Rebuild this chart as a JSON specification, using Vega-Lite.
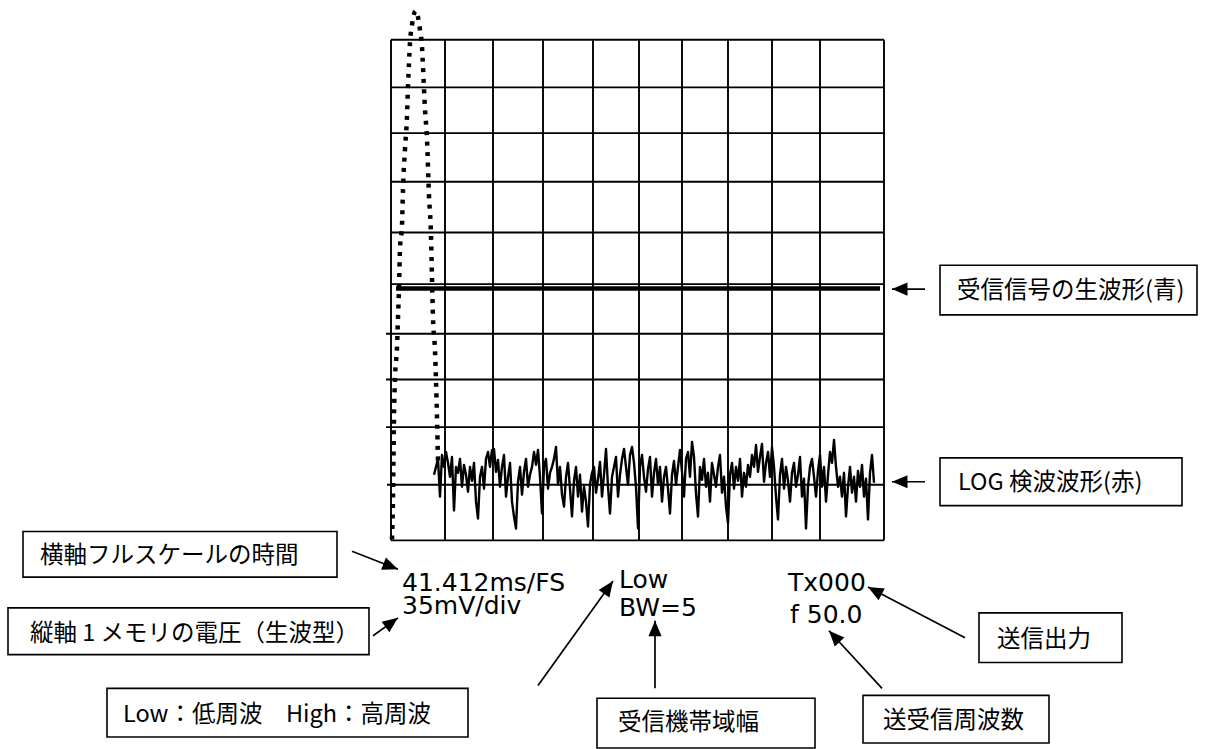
{
  "$schema": "https://vega.github.io/schema/vega-lite/v6.json",
  "width": 1231,
  "height": 749,
  "autosize": {"type": "fit", "contains": "padding"},
  "padding": 0,
  "background": "white",
  "config": {"view": {"stroke": null}},
  "datasets": {
    "grid": [
      {"x": 391, "y": 40, "x2": 391, "y2": 544},
      {"x": 445, "y": 40, "x2": 445, "y2": 544},
      {"x": 493, "y": 40, "x2": 493, "y2": 544},
      {"x": 543, "y": 40, "x2": 543, "y2": 544},
      {"x": 593, "y": 40, "x2": 593, "y2": 544},
      {"x": 639, "y": 40, "x2": 639, "y2": 544},
      {"x": 682, "y": 40, "x2": 682, "y2": 544},
      {"x": 728, "y": 40, "x2": 728, "y2": 544},
      {"x": 772, "y": 40, "x2": 772, "y2": 544},
      {"x": 820, "y": 40, "x2": 820, "y2": 544},
      {"x": 884, "y": 40, "x2": 884, "y2": 544},
      {"x": 391, "y": 40, "x2": 884, "y2": 40},
      {"x": 391, "y": 88, "x2": 884, "y2": 88},
      {"x": 391, "y": 134, "x2": 884, "y2": 134},
      {"x": 391, "y": 183, "x2": 884, "y2": 183},
      {"x": 391, "y": 234, "x2": 884, "y2": 234},
      {"x": 391, "y": 286, "x2": 884, "y2": 286},
      {"x": 386, "y": 336, "x2": 884, "y2": 336},
      {"x": 386, "y": 382, "x2": 884, "y2": 382},
      {"x": 386, "y": 430, "x2": 884, "y2": 430},
      {"x": 387, "y": 488, "x2": 884, "y2": 488},
      {"x": 391, "y": 544, "x2": 884, "y2": 544}
    ],
    "signal": [
      {"x": 396, "y": 290.5, "x2": 880, "y2": 290.5}
    ],
    "noise": [
      {"x": 434, "y": 478}, {"x": 436, "y": 470}, {"x": 438, "y": 462}, {"x": 440, "y": 500}, {"x": 442, "y": 458}, {"x": 444, "y": 470}, {"x": 446, "y": 455}, {"x": 448, "y": 466}, {"x": 450, "y": 480}, {"x": 452, "y": 460},
      {"x": 454, "y": 514}, {"x": 456, "y": 470}, {"x": 458, "y": 476}, {"x": 460, "y": 462}, {"x": 462, "y": 490}, {"x": 464, "y": 468}, {"x": 466, "y": 478}, {"x": 468, "y": 495}, {"x": 470, "y": 470}, {"x": 472, "y": 484},
      {"x": 474, "y": 466}, {"x": 476, "y": 505}, {"x": 478, "y": 522}, {"x": 480, "y": 480}, {"x": 482, "y": 470}, {"x": 484, "y": 492}, {"x": 486, "y": 462}, {"x": 488, "y": 455}, {"x": 490, "y": 470}, {"x": 492, "y": 453},
      {"x": 494, "y": 452}, {"x": 496, "y": 475}, {"x": 498, "y": 463}, {"x": 500, "y": 490}, {"x": 502, "y": 470}, {"x": 504, "y": 458}, {"x": 506, "y": 500}, {"x": 508, "y": 480}, {"x": 510, "y": 466}, {"x": 512, "y": 505},
      {"x": 514, "y": 520}, {"x": 516, "y": 532}, {"x": 518, "y": 485}, {"x": 520, "y": 470}, {"x": 522, "y": 498}, {"x": 524, "y": 475}, {"x": 526, "y": 462}, {"x": 528, "y": 490}, {"x": 530, "y": 478}, {"x": 532, "y": 470},
      {"x": 534, "y": 455}, {"x": 536, "y": 468}, {"x": 538, "y": 453}, {"x": 540, "y": 480}, {"x": 542, "y": 517}, {"x": 544, "y": 470}, {"x": 546, "y": 462}, {"x": 548, "y": 492}, {"x": 550, "y": 476}, {"x": 552, "y": 470},
      {"x": 554, "y": 462}, {"x": 556, "y": 450}, {"x": 558, "y": 488}, {"x": 560, "y": 470}, {"x": 562, "y": 498}, {"x": 564, "y": 510}, {"x": 566, "y": 480}, {"x": 568, "y": 466}, {"x": 570, "y": 492}, {"x": 572, "y": 520},
      {"x": 574, "y": 484}, {"x": 576, "y": 470}, {"x": 578, "y": 500}, {"x": 580, "y": 478}, {"x": 582, "y": 515}, {"x": 584, "y": 490}, {"x": 586, "y": 505}, {"x": 588, "y": 530}, {"x": 590, "y": 488}, {"x": 592, "y": 476},
      {"x": 594, "y": 470}, {"x": 596, "y": 496}, {"x": 598, "y": 482}, {"x": 600, "y": 465}, {"x": 602, "y": 500}, {"x": 604, "y": 478}, {"x": 606, "y": 452}, {"x": 608, "y": 490}, {"x": 610, "y": 517}, {"x": 612, "y": 480},
      {"x": 614, "y": 470}, {"x": 616, "y": 460}, {"x": 618, "y": 500}, {"x": 620, "y": 478}, {"x": 622, "y": 462}, {"x": 624, "y": 452}, {"x": 626, "y": 470}, {"x": 628, "y": 488}, {"x": 630, "y": 458}, {"x": 632, "y": 450},
      {"x": 634, "y": 466}, {"x": 636, "y": 490}, {"x": 638, "y": 532}, {"x": 640, "y": 470}, {"x": 642, "y": 458}, {"x": 644, "y": 480}, {"x": 646, "y": 495}, {"x": 648, "y": 472}, {"x": 650, "y": 460}, {"x": 652, "y": 500},
      {"x": 654, "y": 476}, {"x": 656, "y": 462}, {"x": 658, "y": 488}, {"x": 660, "y": 470}, {"x": 662, "y": 505}, {"x": 664, "y": 480}, {"x": 666, "y": 470}, {"x": 668, "y": 492}, {"x": 670, "y": 517}, {"x": 672, "y": 478},
      {"x": 674, "y": 464}, {"x": 676, "y": 488}, {"x": 678, "y": 470}, {"x": 680, "y": 453}, {"x": 682, "y": 475}, {"x": 684, "y": 500}, {"x": 686, "y": 462}, {"x": 688, "y": 455}, {"x": 690, "y": 480}, {"x": 692, "y": 445},
      {"x": 694, "y": 460}, {"x": 696, "y": 497}, {"x": 698, "y": 520}, {"x": 700, "y": 470}, {"x": 702, "y": 483}, {"x": 704, "y": 462}, {"x": 706, "y": 490}, {"x": 708, "y": 476}, {"x": 710, "y": 505}, {"x": 712, "y": 466},
      {"x": 714, "y": 478}, {"x": 716, "y": 490}, {"x": 718, "y": 470}, {"x": 720, "y": 458}, {"x": 722, "y": 496}, {"x": 724, "y": 480}, {"x": 726, "y": 510}, {"x": 728, "y": 527}, {"x": 730, "y": 478}, {"x": 732, "y": 466},
      {"x": 734, "y": 492}, {"x": 736, "y": 470}, {"x": 738, "y": 484}, {"x": 740, "y": 462}, {"x": 742, "y": 500}, {"x": 744, "y": 476}, {"x": 746, "y": 490}, {"x": 748, "y": 468}, {"x": 750, "y": 480}, {"x": 752, "y": 458},
      {"x": 754, "y": 470}, {"x": 756, "y": 448}, {"x": 758, "y": 475}, {"x": 760, "y": 460}, {"x": 762, "y": 447}, {"x": 764, "y": 485}, {"x": 766, "y": 466}, {"x": 768, "y": 455}, {"x": 770, "y": 480}, {"x": 772, "y": 450},
      {"x": 774, "y": 470}, {"x": 776, "y": 500}, {"x": 778, "y": 523}, {"x": 780, "y": 478}, {"x": 782, "y": 462}, {"x": 784, "y": 492}, {"x": 786, "y": 470}, {"x": 788, "y": 484}, {"x": 790, "y": 505}, {"x": 792, "y": 476},
      {"x": 794, "y": 466}, {"x": 796, "y": 490}, {"x": 798, "y": 478}, {"x": 800, "y": 460}, {"x": 802, "y": 500}, {"x": 804, "y": 482}, {"x": 806, "y": 532}, {"x": 808, "y": 490}, {"x": 810, "y": 470}, {"x": 812, "y": 462},
      {"x": 814, "y": 480}, {"x": 816, "y": 500}, {"x": 818, "y": 474}, {"x": 820, "y": 458}, {"x": 822, "y": 490}, {"x": 824, "y": 470}, {"x": 826, "y": 505}, {"x": 828, "y": 478}, {"x": 830, "y": 455}, {"x": 832, "y": 466},
      {"x": 834, "y": 443}, {"x": 836, "y": 470}, {"x": 838, "y": 490}, {"x": 840, "y": 480}, {"x": 842, "y": 500}, {"x": 844, "y": 476}, {"x": 846, "y": 520}, {"x": 848, "y": 490}, {"x": 850, "y": 470}, {"x": 852, "y": 496},
      {"x": 854, "y": 480}, {"x": 856, "y": 505}, {"x": 858, "y": 474}, {"x": 860, "y": 490}, {"x": 862, "y": 468}, {"x": 864, "y": 500}, {"x": 866, "y": 482}, {"x": 868, "y": 523}, {"x": 870, "y": 476}, {"x": 872, "y": 458},
      {"x": 874, "y": 486}
    ],
    "peak": [
      {"i": 1, "x": 392, "y": 543}, {"i": 2, "x": 393, "y": 500}, {"i": 3, "x": 393.5, "y": 460},
      {"i": 4, "x": 394, "y": 420}, {"i": 5, "x": 395, "y": 380}, {"i": 6, "x": 397, "y": 350},
      {"i": 7, "x": 398, "y": 320}, {"i": 8, "x": 399, "y": 290}, {"i": 9, "x": 400, "y": 250},
      {"i": 10, "x": 402, "y": 227}, {"i": 11, "x": 403, "y": 190}, {"i": 12, "x": 405, "y": 150},
      {"i": 13, "x": 407, "y": 117}, {"i": 14, "x": 408, "y": 87}, {"i": 15, "x": 409, "y": 63},
      {"i": 16, "x": 410, "y": 43}, {"i": 17, "x": 412, "y": 25}, {"i": 18, "x": 414, "y": 14},
      {"i": 19, "x": 416, "y": 11}, {"i": 20, "x": 418, "y": 17}, {"i": 21, "x": 420, "y": 30},
      {"i": 22, "x": 422, "y": 47}, {"i": 23, "x": 423, "y": 67}, {"i": 24, "x": 424, "y": 90},
      {"i": 25, "x": 425, "y": 110}, {"i": 26, "x": 427, "y": 140}, {"i": 27, "x": 429, "y": 197},
      {"i": 28, "x": 431, "y": 237}, {"i": 29, "x": 432, "y": 280}, {"i": 30, "x": 433, "y": 320},
      {"i": 31, "x": 435, "y": 353}, {"i": 32, "x": 437, "y": 420}, {"i": 33, "x": 438, "y": 465}
    ],
    "boxes": [
      {"x": 940, "y": 267, "x2": 1197, "y2": 317},
      {"x": 940, "y": 461, "x2": 1182, "y2": 509},
      {"x": 23, "y": 535, "x2": 337, "y2": 581},
      {"x": 8, "y": 612, "x2": 369, "y2": 659},
      {"x": 107, "y": 693, "x2": 468, "y2": 742},
      {"x": 597, "y": 703, "x2": 815, "y2": 753},
      {"x": 979, "y": 617, "x2": 1122, "y2": 667},
      {"x": 863, "y": 700, "x2": 1049, "y2": 748}
    ],
    "labels": [
      {"x": 957, "y": 293, "text": "受信信号の生波形(青)"},
      {"x": 958, "y": 486, "text": "LOG 検波波形(赤)"},
      {"x": 40, "y": 560, "text": "横軸フルスケールの時間"},
      {"x": 30, "y": 638, "text": "縦軸 1 メモリの電圧（生波型）"},
      {"x": 123, "y": 720, "text": "Low：低周波　High：高周波"},
      {"x": 618, "y": 728, "text": "受信機帯域幅"},
      {"x": 997, "y": 644, "text": "送信出力"},
      {"x": 883, "y": 726, "text": "送受信周波数"}
    ],
    "readouts": [
      {"x": 402, "y": 595, "text": "41.412ms/FS"},
      {"x": 402, "y": 618, "text": "35mV/div"},
      {"x": 619, "y": 592, "text": "Low"},
      {"x": 619, "y": 620, "text": "BW=5"},
      {"x": 788, "y": 595, "text": "Tx000"},
      {"x": 790, "y": 627, "text": "f 50.0"}
    ],
    "arrows": [
      {"x": 925, "y": 291, "x2": 892, "y2": 291, "heading": 270},
      {"x": 925, "y": 485, "x2": 892, "y2": 485, "heading": 270},
      {"x": 352, "y": 555, "x2": 398, "y2": 573, "heading": 111},
      {"x": 373, "y": 640, "x2": 398, "y2": 622, "heading": 54},
      {"x": 538, "y": 690, "x2": 613, "y2": 585, "heading": 35.5},
      {"x": 655, "y": 693, "x2": 655, "y2": 625, "heading": 0},
      {"x": 965, "y": 642, "x2": 868, "y2": 591, "heading": 298},
      {"x": 882, "y": 693, "x2": 829, "y2": 635, "heading": 317}
    ]
  },
  "layer": [
    {
      "data": {"name": "grid"},
      "mark": {"type": "rule", "color": "black", "strokeWidth": 1.9},
      "encoding": {
        "x": {"field": "x", "type": "quantitative", "scale": {"domain": [0, 1231], "nice": false, "zero": false}, "axis": null},
        "y": {"field": "y", "type": "quantitative", "scale": {"domain": [0, 749], "nice": false, "zero": false, "reverse": true}, "axis": null},
        "x2": {"field": "x2"},
        "y2": {"field": "y2"}
      }
    },
    {
      "data": {"name": "signal"},
      "mark": {"type": "rule", "color": "black", "strokeWidth": 4.5},
      "encoding": {
        "x": {"field": "x", "type": "quantitative"},
        "y": {"field": "y", "type": "quantitative"},
        "x2": {"field": "x2"},
        "y2": {"field": "y2"}
      }
    },
    {
      "data": {"name": "noise"},
      "mark": {"type": "line", "color": "black", "strokeWidth": 2.4, "strokeJoin": "round"},
      "encoding": {
        "x": {"field": "x", "type": "quantitative"},
        "y": {"field": "y", "type": "quantitative"}
      }
    },
    {
      "data": {"name": "peak"},
      "mark": {"type": "line", "color": "black", "strokeWidth": 4.5, "strokeDash": [4, 6.5], "strokeCap": "butt", "interpolate": "monotone"},
      "encoding": {
        "x": {"field": "x", "type": "quantitative"},
        "y": {"field": "y", "type": "quantitative"},
        "order": {"field": "i", "type": "quantitative"}
      }
    },
    {
      "data": {"name": "boxes"},
      "mark": {"type": "rect", "fill": "white", "stroke": "black", "strokeWidth": 1.6},
      "encoding": {
        "x": {"field": "x", "type": "quantitative"},
        "y": {"field": "y", "type": "quantitative"},
        "x2": {"field": "x2"},
        "y2": {"field": "y2"}
      }
    },
    {
      "data": {"name": "labels"},
      "mark": {"type": "text", "align": "left", "baseline": "middle", "font": "Noto Sans CJK JP", "fontSize": 23.5, "color": "black"},
      "encoding": {
        "x": {"field": "x", "type": "quantitative"},
        "y": {"field": "y", "type": "quantitative"},
        "text": {"field": "text"}
      }
    },
    {
      "data": {"name": "readouts"},
      "mark": {"type": "text", "align": "left", "baseline": "alphabetic", "font": "DejaVu Sans", "fontSize": 25, "color": "black"},
      "encoding": {
        "x": {"field": "x", "type": "quantitative"},
        "y": {"field": "y", "type": "quantitative"},
        "text": {"field": "text"}
      }
    },
    {
      "data": {"name": "arrows"},
      "mark": {"type": "rule", "color": "black", "strokeWidth": 1.7},
      "encoding": {
        "x": {"field": "x", "type": "quantitative"},
        "y": {"field": "y", "type": "quantitative"},
        "x2": {"field": "x2"},
        "y2": {"field": "y2"}
      }
    },
    {
      "data": {"name": "arrows"},
      "mark": {"type": "point", "shape": "M0,0L-0.85,2L0.85,2Z", "filled": true, "color": "black", "opacity": 1, "size": 240, "strokeWidth": 0},
      "encoding": {
        "x": {"field": "x2", "type": "quantitative"},
        "y": {"field": "y2", "type": "quantitative"},
        "angle": {"field": "heading", "type": "quantitative", "scale": null}
      }
    }
  ]
}
